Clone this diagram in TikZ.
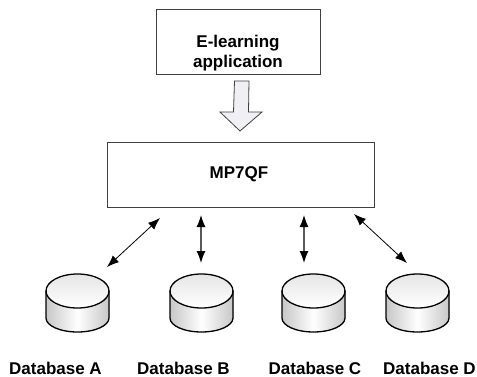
\documentclass[tikz,border=0pt]{standalone}
\usepackage{fontspec}
\setmainfont{Liberation Sans}
\usetikzlibrary{arrows.meta}
\tikzset{
  boxnode/.style={draw=black!75,line width=0.9pt,fill=white,inner sep=0pt,align=center},
  lbl/.style={font=\fontsize{17}{20}\selectfont\bfseries,inner sep=0pt,align=center},
  link/.style={black,line width=0.8pt,{Latex[length=12pt,width=9pt,black]}-{Latex[length=12pt,width=9pt,black]}},
  vlink/.style={link,draw=black!65,line width=1.2pt},
  dbpic/.pic={
    \fill[left color=black!22,right color=black!22,middle color=white]
      (-31.5,-24) -- (-31.5,3) arc[start angle=180,end angle=0,x radius=31.5,y radius=14] -- (31.5,-24) -- cycle;
    \shade[top color=black!10,bottom color=white]
      (0,-24) ellipse[x radius=31.5,y radius=17];
    \draw[line width=1.3pt] (0,-24) ellipse[x radius=31.5,y radius=17];
    \draw[line width=1.3pt] (-31.5,-24) -- (-31.5,3) arc[start angle=180,end angle=0,x radius=31.5,y radius=14] -- (31.5,-24);
  }
}
\begin{document}
\begin{tikzpicture}[x=1pt,y=-1pt]
\useasboundingbox[fill=white] (0,0) rectangle (477,376);
\node[boxnode,minimum width=164pt,minimum height=65pt] (app) at (238,41.5) {};
\node[lbl] (apptext) at (238,53) {E-learning\\application};
\node[boxnode,minimum width=267pt,minimum height=65pt] (mp) at (240.5,174.5) {};
\node[lbl] (mptext) at (239,174) {MP7QF};
\draw[draw=black!75,line width=0.8pt,fill=blue!25!black!6!white]
  (234.5,81) -- (249,81) -- (248.5,112) -- (262,112) -- (240,131) -- (220,112) -- (233.5,112) -- cycle;
\coordinate (a1) at (160,218); \coordinate (a2) at (107,267);
\coordinate (b1) at (201,215); \coordinate (b2) at (201,263);
\coordinate (c1) at (304,215); \coordinate (c2) at (304,263);
\coordinate (d1) at (354,214); \coordinate (d2) at (407,263);
\draw[link] (a1) -- (a2);
\draw[vlink] (b1) -- (b2);
\draw[vlink] (c1) -- (c2);
\draw[link] (d1) -- (d2);
\pic at (77.5,315) {dbpic};
\pic at (201.5,315) {dbpic};
\pic at (313.5,315) {dbpic};
\pic at (417.5,315) {dbpic};
\node[lbl] (la) at (55.5,368) {Database A};
\node[lbl] (lb) at (183.5,368) {Database B};
\node[lbl] (lc) at (315,368) {Database C};
\node[lbl] (ld) at (429.5,368) {Database D};
\end{tikzpicture}
\end{document}
